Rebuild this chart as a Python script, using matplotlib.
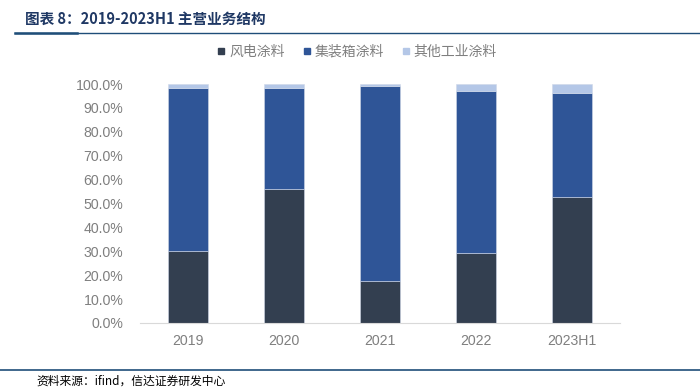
import numpy as np
import matplotlib.pyplot as plt
from matplotlib.lines import Line2D

plt.rcParams['font.family'] = ['Noto Sans CJK SC', 'DejaVu Sans']

# data (shares of revenue, %)
years = ['2019', '2020', '2021', '2022', '2023H1']
wind = [30.0, 56.0, 17.5, 29.3, 52.7]
container = [68.5, 42.3, 81.7, 68.0, 43.4]
other = [1.5, 1.7, 0.8, 2.7, 3.9]
series_names = ['风电涂料', '集装箱涂料', '其他工业涂料']
colors = ['#333F50', '#2F5597', '#B4C7E7']

fig = plt.figure(figsize=(7, 3.91), dpi=100)
ax = fig.add_axes([0.2, 0.174, 0.686, 0.611])

x = np.arange(len(years))
w = 0.41
bottom = np.zeros(len(years))
for vals, c, name in zip([wind, container, other], colors, series_names):
    v = np.array(vals) / 100
    ax.bar(x, v, w, bottom=bottom, color=c, edgecolor='#D0D8E8', linewidth=0.4, label=name)
    bottom += v

ax.set_xlim(-0.5, len(years) - 0.5)
ax.set_ylim(0, 1.0)
ax.set_yticks(np.arange(0, 1.01, 0.1))
ax.set_yticklabels([f'{t * 100:.1f}%' for t in np.arange(0, 1.01, 0.1)])
ax.set_xticks(x)
ax.set_xticklabels(years)
for lab in ax.get_xticklabels() + ax.get_yticklabels():
    lab.set_fontfamily('Liberation Sans')
ax.tick_params(axis='both', length=0, labelsize=10.2, colors='#7F7F7F')
ax.tick_params(axis='x', pad=8)
ax.tick_params(axis='y', pad=12)
for s in ['top', 'right', 'left']:
    ax.spines[s].set_visible(False)
ax.spines['bottom'].set_color('#D9D9D9')

handles = [Line2D([], [], marker='s', linestyle='', color=c, markersize=5) for c in colors]
fig.legend(handles, series_names, loc='center', bbox_to_anchor=(0.51, 0.867), ncol=3,
           frameon=False, fontsize=10, handlelength=0.6, handletextpad=0.25,
           columnspacing=1.3, labelcolor='#7F7F7F')

# title and frame lines
fig.text(0.036, 0.953, '图表 8：2019-2023H1 主营业务结构', fontsize=10.5, fontweight='bold',
         color='#1F3864', va='center')
fig.add_artist(Line2D([0.021, 1.0], [0.916, 0.916], color='#1F4E79', linewidth=1.0))
fig.add_artist(Line2D([0.021, 0.11], [0.916, 0.916], color='#1F4E79', linewidth=1.8))
fig.add_artist(Line2D([0.0, 1.0], [0.054, 0.054], color='#1F4E79', linewidth=1.2))
fig.text(0.052, 0.024, '资料来源：ifind，信达证券研发中心', fontsize=8.5, style='italic',
         color='#000000', va='center')

fig.savefig('out.png', dpi=100)
